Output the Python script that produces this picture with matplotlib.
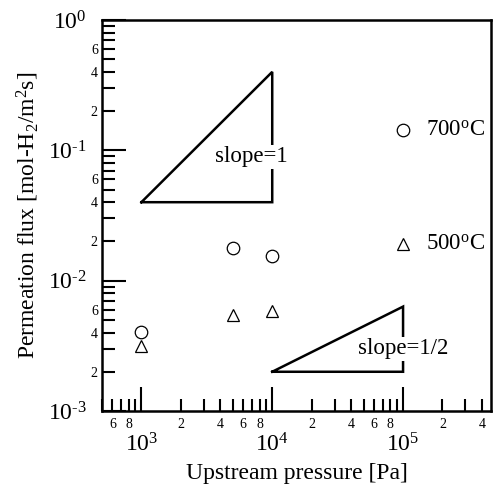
import numpy as np
import matplotlib.pyplot as plt
from matplotlib.ticker import LogLocator, FuncFormatter

plt.rcParams['font.family'] = ['Liberation Serif', 'DejaVu Serif']
plt.rcParams['mathtext.fontset'] = 'custom'
plt.rcParams['mathtext.rm'] = 'Liberation Serif'
plt.rcParams['mathtext.it'] = 'Liberation Serif:italic'

# data
pressure = [1e3, 5e3, 1e4, 1e5]
flux_700 = [0.00405, 0.0177, 0.0155, 0.143]
flux_500 = [0.00315, 0.0055, 0.0059, 0.0192]

# slope guide triangles
tri1_x = [1e3, 1e4, 1e4, 1e3]
tri1_y = [0.04, 0.4, 0.04, 0.04]
tri2_x = [1e4, 1e5, 1e5, 1e4]
tri2_y = [0.002, 0.002 * np.sqrt(10), 0.002, 0.002]


def minor_lab(keep):
    def f(v, pos):
        m = int(round(v / 10 ** np.floor(np.log10(v))))
        return str(m) if m in keep else ''
    return f


def major_lab(v, pos):
    e = int(round(np.log10(v)))
    s = str(e).replace('-', '\u2010')
    return r'$\mathregular{10^{%s}}$' % s


fig = plt.figure(figsize=(4.94, 4.88), dpi=100)
ax = fig.add_axes([102 / 494, 77 / 488, 389 / 494, 391 / 488])
ax.set_xscale('log')
ax.set_yscale('log')
ax.set_xlim(500, 4.7e5)
ax.set_ylim(1e-3, 1)

ax.plot(tri1_x, tri1_y, color='black', lw=1.8, solid_joinstyle='miter')
ax.plot(tri2_x, tri2_y, color='black', lw=1.8, solid_joinstyle='miter')

ax.plot(pressure, flux_700, ls='none', marker='o', ms=9, mfc='white',
        mec='black', mew=0.9)
ax.plot(pressure, flux_500, ls='none', marker='^', ms=9, mfc='white',
        mec='black', mew=0.9)

ax.text(6.9e3, 0.089, 'slope=1', fontsize=16.5, ha='center', va='center',
        bbox=dict(facecolor='white', edgecolor='none', pad=1))
ax.text(1.0e5, 0.003, 'slope=1/2', fontsize=16.5, ha='center', va='center',
        bbox=dict(facecolor='white', edgecolor='none', pad=1))
ax.text(1.5e5, 0.143, r'700$^\mathregular{o}$C', fontsize=16.5, va='center')
ax.text(1.5e5, 0.0192, r'500$^\mathregular{o}$C', fontsize=16.5, va='center')

ax.xaxis.set_major_locator(LogLocator(base=10))
ax.yaxis.set_major_locator(LogLocator(base=10))
ax.xaxis.set_minor_locator(LogLocator(base=10, subs=np.arange(2, 10)))
ax.yaxis.set_minor_locator(LogLocator(base=10, subs=np.arange(2, 10)))
ax.xaxis.set_major_formatter(FuncFormatter(major_lab))
ax.yaxis.set_major_formatter(FuncFormatter(major_lab))
ax.xaxis.set_minor_formatter(FuncFormatter(minor_lab({2, 4, 6, 8})))
ax.yaxis.set_minor_formatter(FuncFormatter(minor_lab({2, 4, 6})))

ax.tick_params(which='both', direction='in', width=1.5)
ax.tick_params(which='major', length=17, labelsize=17)
ax.tick_params(which='minor', length=9, labelsize=10)
ax.tick_params(axis='x', which='major', pad=16)
ax.tick_params(axis='x', which='minor', pad=5)
ax.tick_params(axis='y', which='major', pad=11)
ax.tick_params(axis='y', which='minor', pad=3)
for s in ax.spines.values():
    s.set_linewidth(1.8)

ax.set_xlabel('Upstream pressure [Pa]', fontsize=17, labelpad=5)
ax.set_ylabel(r'Permeation flux [mol-H$_\mathregular{2}$/m$^\mathregular{2}$s]',
              fontsize=17, labelpad=5)

fig.savefig('out.png', dpi=100)
